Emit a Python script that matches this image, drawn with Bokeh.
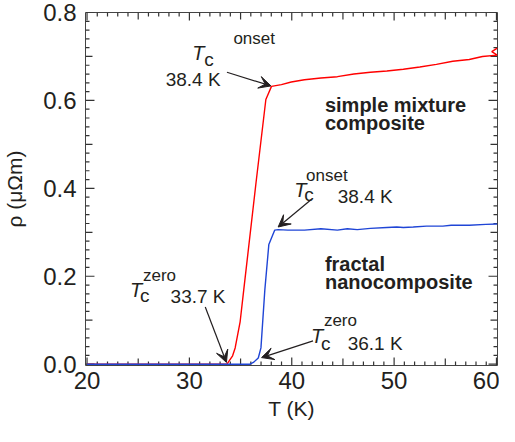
import math
from bokeh.plotting import figure
from bokeh.models import Range1d, FixedTicker, LinearAxis, Label, Arrow, VeeHead
from bokeh.embed import file_html
from bokeh.resources import INLINE

# ---------------- data ----------------
# simple mixture composite (red)
red_T = [20.0, 33.67, 34.22, 34.47, 34.96, 35.31, 36.50, 37.47, 38.02, 38.99, 39.95,
         41.24, 42.85, 44.46, 46.07, 47.68, 49.29, 50.90, 52.51, 54.13, 55.73,
         57.34, 58.63, 60.08, 59.54, 60.08]
red_rho = [0.0, 0.0, 0.019, 0.037, 0.097, 0.169, 0.411, 0.602, 0.632, 0.636, 0.642,
           0.647, 0.651, 0.654, 0.660, 0.664, 0.667, 0.671, 0.676, 0.682, 0.689,
           0.693, 0.700, 0.703, 0.711, 0.719]

# fractal nanocomposite (blue)
blue_T = [20.0, 35.92, 36.25, 36.73, 36.99, 37.37, 37.76, 38.34, 38.67, 39.63, 41.24,
          42.85, 44.46, 45.43, 46.40, 47.68, 49.29, 50.26, 50.90, 51.87, 53.16,
          54.76, 55.57, 57.34, 58.96, 60.08]
blue_rho = [0.0, 0.0, 0.004, 0.014, 0.037, 0.169, 0.272, 0.305, 0.306, 0.305, 0.305,
            0.308, 0.305, 0.308, 0.306, 0.309, 0.311, 0.312, 0.311, 0.312, 0.314,
            0.314, 0.316, 0.316, 0.318, 0.319]

x_major = [20, 30, 40, 50, 60]
x_mid = [25, 35, 45, 55]
x_minor = [21, 22, 23, 24, 26, 27, 28, 29, 31, 32, 33, 34, 36, 37, 38, 39,
           41, 42, 43, 44, 46, 47, 48, 49, 51, 52, 53, 54, 56, 57, 58, 59]
y_major = [0.0, 0.2, 0.4, 0.6, 0.8]
y_mid = [0.1, 0.3, 0.5, 0.7]
y_minor = [0.02, 0.04, 0.06, 0.08, 0.12, 0.14, 0.16, 0.18, 0.22, 0.24, 0.26, 0.28,
           0.32, 0.34, 0.36, 0.38, 0.42, 0.44, 0.46, 0.48, 0.52, 0.54, 0.56, 0.58,
           0.62, 0.64, 0.66, 0.68, 0.72, 0.74, 0.76, 0.78]
y_labels = {0.0: "0.0", 0.2: "0.2", 0.4: "0.4", 0.6: "0.6", 0.8: "0.8"}

# annotation texts: (text, x, y, size, style)
ann_texts = [
    ("T", 30.29, 0.708, "20px", "italic"), ("c", 31.45, 0.692, "19px", "normal"),
    ("onset", 34.3, 0.741, "17px", "normal"), ("38.4 K", 27.68, 0.648, "19px", "normal"),
    ("T", 40.24, 0.396, "20px", "italic"), ("c", 41.21, 0.385, "19px", "normal"),
    ("onset", 41.40, 0.429, "17px", "normal"), ("38.4 K", 44.49, 0.382, "19px", "normal"),
    ("T", 24.20, 0.169, "20px", "italic"), ("c", 25.17, 0.156, "19px", "normal"),
    ("zero", 25.46, 0.202, "17px", "normal"), ("33.7 K", 28.16, 0.154, "19px", "normal"),
    ("T", 41.88, 0.064, "20px", "italic"), ("c", 42.85, 0.048, "19px", "normal"),
    ("zero", 43.14, 0.099, "17px", "normal"), ("36.1 K", 45.46, 0.048, "19px", "normal"),
]
bold_texts = [("simple mixture", 43.24, 0.589), ("composite", 43.24, 0.549),
              ("fractal", 43.24, 0.229), ("nanocomposite", 43.24, 0.187)]
arrows = [(33.67, 0.664, 37.97, 0.633), (41.88, 0.374, 38.67, 0.312),
          (31.55, 0.130, 33.62, 0.004), (42.08, 0.053, 37.05, 0.015)]

FONT = "Liberation Sans"
TXT = "#231f20"
AX = "#333333"

X0, X1 = 19.85, 60.1
Y0, Y1 = -0.003, 0.8
FRAME_W, FRAME_H = 413, 353
PX_X = FRAME_W / (X1 - X0)   # screen px per kelvin
PX_Y = FRAME_H / (Y1 - Y0)   # screen px per unit rho

p = figure(width=499, height=426, output_backend="svg", toolbar_location=None,
           x_range=Range1d(X0, X1), y_range=Range1d(Y0, Y1),
           min_border_left=84, min_border_right=2, min_border_top=12, min_border_bottom=61,
           x_axis_location=None, y_axis_location=None)
p.grid.visible = False
p.outline_line_color = "#444444"
p.outline_line_width = 1
p.background_fill_color = "white"
p.border_fill_color = "white"

# axes: labels only (ticks drawn inside the frame below)
xa = LinearAxis(ticker=FixedTicker(ticks=x_major, minor_ticks=[]))
ya = LinearAxis(ticker=FixedTicker(ticks=y_major, minor_ticks=[]))
ya.major_label_overrides = y_labels
for a in (xa, ya):
    a.axis_line_color = None
    a.major_tick_in = 0
    a.major_tick_out = 0
    a.minor_tick_in = 0
    a.minor_tick_out = 0
    a.major_label_text_font = FONT
    a.major_label_text_font_size = "24px"
    a.major_label_text_color = TXT
    a.axis_label_text_font = FONT
    a.axis_label_text_font_size = "21px"
    a.axis_label_text_font_style = "normal"
    a.axis_label_text_color = TXT
xa.major_label_standoff = 6
ya.major_label_standoff = 9
ya.axis_label = "ρ (μΩm)"
ya.axis_label_standoff = 14
xa.axis_label = "T (K)"
xa.axis_label_standoff = 5
p.add_layout(xa, "below")
p.add_layout(ya, "left")

# inward ticks on all four sides (lengths given in screen px)
for vals, L in ((x_major, 8), (x_mid, 7), (x_minor, 4)):
    n = len(vals)
    d = L / PX_Y
    p.segment(x0=vals, y0=[Y0] * n, x1=vals, y1=[Y0 + d] * n, line_color=AX, line_width=1.2)
    p.segment(x0=vals, y0=[Y1] * n, x1=vals, y1=[Y1 - d] * n, line_color=AX, line_width=1.2)
for vals, L in ((y_major, 9), (y_mid, 7), (y_minor, 4)):
    n = len(vals)
    d = L / PX_X
    p.segment(x0=[X0] * n, y0=vals, x1=[X0 + d] * n, y1=vals, line_color=AX, line_width=1.2)
    p.segment(x0=[X1] * n, y0=vals, x1=[X1 - d] * n, y1=vals, line_color=AX, line_width=1.2)

p.line(red_T, red_rho, line_color="#ff0000", line_width=1.4)
p.line(blue_T, blue_rho, line_color="#1f45d6", line_width=1.4)

for (x0, y0, x1, y1) in arrows:
    p.add_layout(Arrow(x_start=x0, y_start=y0, x_end=x1, y_end=y1,
                       line_color=TXT, line_width=1.2,
                       end=VeeHead(size=12, fill_color=TXT, line_color=TXT)))

for (t, x, y, s, st) in ann_texts:
    p.add_layout(Label(x=x, y=y, text=t, text_font=FONT, text_font_size=s,
                       text_font_style=st, text_color=TXT,
                       text_align="left", text_baseline="alphabetic"))

for (t, x, y) in bold_texts:
    p.add_layout(Label(x=x, y=y, text=t, text_font=FONT, text_font_size="20px",
                       text_font_style="bold", text_color=TXT,
                       text_align="left", text_baseline="alphabetic"))

open("out.html", "w").write(file_html(p, INLINE))
